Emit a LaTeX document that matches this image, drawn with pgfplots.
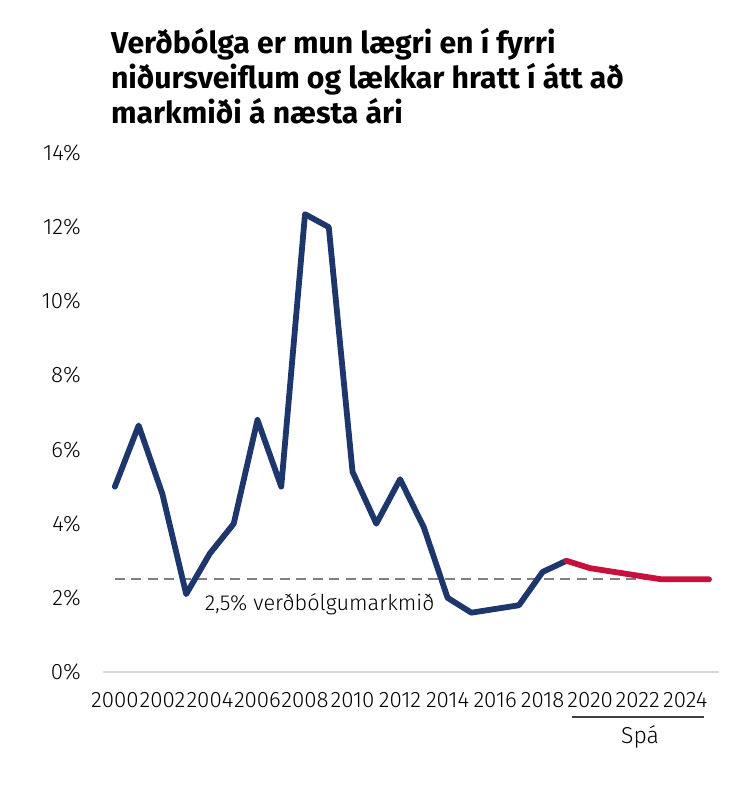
\documentclass[border=0pt]{standalone}
\usepackage{fontspec}
\setmainfont{Fira Sans Light}[BoldFont={Fira Sans Bold}]
\usepackage{pgfplots}
\pgfplotsset{compat=1.18}

\definecolor{navy}{RGB}{29,54,108}
\definecolor{spared}{RGB}{200,16,60}
\definecolor{targetgray}{RGB}{128,128,128}
\definecolor{basegray}{RGB}{215,215,215}

\begin{document}
\begin{tikzpicture}
\begin{axis}[
  scale only axis,
  width=616pt, height=519pt,
  xmin=1999.5, xmax=2025.42,
  ymin=0, ymax=14,
  clip=false,
  axis line style={draw=none},
  major tick length=0pt,
  xtick={2000,2002,...,2024},
  ytick={0,2,...,14},
  /pgf/number format/.cd, 1000 sep={}, assume math mode=true,
  /pgfplots/.cd,
  yticklabel={\pgfmathprintnumber{\tick}\%},
  tick label style={font=\fontsize{22.3}{24}\selectfont, inner sep=0pt},
  yticklabel style={anchor=east, xshift=-22pt},
  xticklabel style={anchor=north, yshift=-20pt},
]
  % grunnlína
  \draw[basegray, line width=2pt] (rel axis cs:0,0) -- (rel axis cs:1,0);

  % verðbólgumarkmið
  \addplot[targetgray, line width=2pt, dash pattern=on 10pt off 6.5pt] coordinates {
    (2000,2.5) (2025,2.5)
  };

  % raun
  \addplot[navy, line width=5.8pt, line join=round, line cap=round] coordinates {
    (2000,5.0) (2001,6.65) (2002,4.8) (2003,2.1) (2004,3.2) (2005,4.0)
    (2006,6.8) (2007,5.0) (2008,12.35) (2009,12.0) (2010,5.4) (2011,4.0)
    (2012,5.2) (2013,3.9) (2014,2.0) (2015,1.6) (2016,1.7) (2017,1.8)
    (2018,2.7) (2019,3.0)
  };

  % spá
  \addplot[spared, line width=5.8pt, line join=round, line cap=round] coordinates {
    (2019,3.0) (2020,2.8) (2021,2.7) (2022,2.6) (2023,2.5) (2024,2.5) (2025,2.5)
  };

  \node[anchor=base west, inner sep=0pt, font=\fontsize{21.7}{24}\selectfont]
    at (axis cs:2003.78,1.67) {2,5\% verðbólgumarkmið};

  \draw[black!75, line width=1.5pt] (axis cs:2019.25,-1.214) -- (axis cs:2024.8,-1.214);
  \node[anchor=base, inner sep=0pt, font=\fontsize{23}{24}\selectfont]
    at (axis cs:2022.1,-1.916) {Spá};

  % titill
  \node[anchor=base west, inner sep=0pt, font=\fontsize{30.2}{35}\selectfont\bfseries]
    at (axis cs:1999.83,16.671) {Verðbólga er mun lægri en í fyrri};
  \node[anchor=base west, inner sep=0pt, font=\fontsize{30.2}{35}\selectfont\bfseries]
    at (axis cs:1999.83,15.727) {niðursveiflum og lækkar hratt í átt að};
  \node[anchor=base west, inner sep=0pt, font=\fontsize{30.2}{35}\selectfont\bfseries]
    at (axis cs:1999.83,14.783) {markmiði á næsta ári};
\end{axis}
\pgfresetboundingbox
\path ([xshift=-103pt,yshift=-119pt]current axis.south west)
  rectangle ([xshift=638pt,yshift=672pt]current axis.south west);
\end{tikzpicture}
\end{document}
